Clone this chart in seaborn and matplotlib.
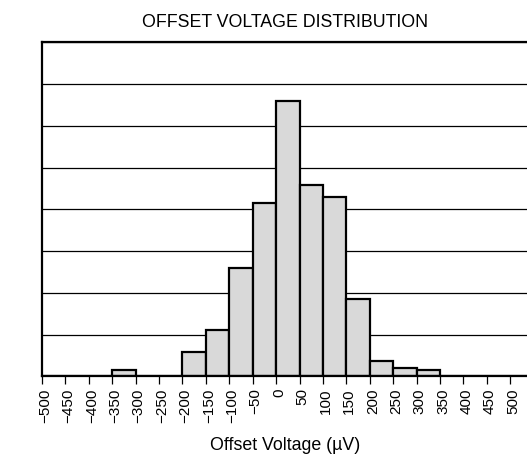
import numpy as np
import pandas as pd
import matplotlib
matplotlib.use("Agg")
import matplotlib.pyplot as plt
import matplotlib.transforms as mtransforms
import seaborn as sns

# Data (bin left edges in µV, population in arbitrary units; gridline = 10)
bin_left = [-350, -200, -150, -100, -50, 0, 50, 100, 150, 200, 250, 300]
population = [1.6, 5.9, 11.1, 25.9, 41.4, 66.0, 45.9, 42.9, 18.5, 3.7, 2.1, 1.5]
tick_values = list(range(-500, 501, 50))
tick_labels = [str(v).replace("-", "\u2212") for v in tick_values]

sns.set_theme(style="white")
plt.rcParams["font.family"] = ["Liberation Sans", "DejaVu Sans"]
plt.rcParams["text.color"] = "black"
plt.rcParams["axes.labelcolor"] = "black"
plt.rcParams["xtick.color"] = "black"

df = pd.DataFrame({"offset": [b + 25 for b in bin_left], "population": population})

fig = plt.figure(figsize=(5.27, 4.6), dpi=100)
ax = fig.add_axes([42 / 527, (460 - 377.3) / 460, 487 / 527, (377.3 - 43.3) / 460])

ax.set_xlim(-500, 540)
ax.set_ylim(0, 80)
ax.set_yticks(np.arange(0, 81, 10))
ax.yaxis.grid(True, color="black", linewidth=0.9)
ax.set_axisbelow(True)
ax.tick_params(axis="y", left=False, labelleft=False)

sns.histplot(data=df, x="offset", weights="population", binwidth=50, binrange=(-500, 550),
             color="#d9d9d9", alpha=1.0, edgecolor="black", linewidth=1.6, ax=ax)

ax.set_ylim(0, 80)
ax.set_xlim(-500, 540)
ax.set_xticks(tick_values)
ax.set_xticklabels(tick_labels, rotation=90, fontsize=11)
ax.tick_params(axis="x", bottom=True, direction="out", length=6, width=0.9,
               color="black", labelcolor="black", pad=2)
shift = mtransforms.ScaledTranslation(3 / 100, 0, fig.dpi_scale_trans)
for lab in ax.get_xticklabels():
    lab.set_transform(lab.get_transform() + shift)

for s in ax.spines.values():
    s.set_color("black")
    s.set_linewidth(1.6)

ax.set_xlabel("Offset Voltage (\u00b5V)", fontsize=12.8, labelpad=10, color="black")
ax.set_ylabel("Population", fontsize=12.5, labelpad=8, color="black")
ax.set_title("OFFSET VOLTAGE DISTRIBUTION", fontsize=12.8, pad=12, color="black")

fig.savefig("out.png", dpi=100)
